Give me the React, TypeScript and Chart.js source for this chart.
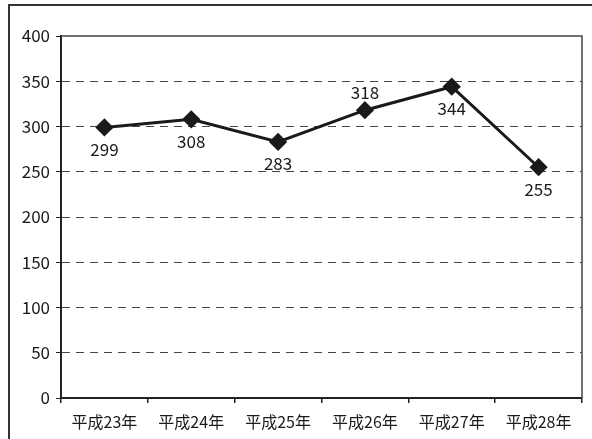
import React, { useEffect, useRef } from "react";
import { Chart, registerables } from "chart.js";

Chart.register(...registerables);

const categories = ["平成23年", "平成24年", "平成25年", "平成26年", "平成27年", "平成28年"];
const values = [299, 308, 283, 318, 344, 255];
const labelSides = ["below", "below", "below", "above", "below", "below"];
const yTicks = [0, 50, 100, 150, 200, 250, 300, 350, 400];

const FONT = "'Noto Sans CJK JP', 'Noto Sans', sans-serif";

const plotFrame = {
  id: "plotFrame",
  afterDatasetsDraw(chart: any) {
    const { ctx, chartArea } = chart;
    ctx.save();
    ctx.setLineDash([]);
    ctx.strokeStyle = "#444";
    ctx.lineWidth = 1.5;
    ctx.beginPath();
    ctx.moveTo(chartArea.left, chartArea.top);
    ctx.lineTo(chartArea.right, chartArea.top);
    ctx.lineTo(chartArea.right, chartArea.bottom);
    ctx.stroke();
    ctx.restore();
  },
};

const valueLabels = {
  id: "valueLabels",
  afterDatasetsDraw(chart: any) {
    const { ctx } = chart;
    const meta = chart.getDatasetMeta(0);
    ctx.save();
    ctx.font = `17px ${FONT}`;
    ctx.fillStyle = "#1a1a1a";
    ctx.textAlign = "center";
    ctx.textBaseline = "middle";
    meta.data.forEach((pt: any, i: number) => {
      const dy = labelSides[i] === "above" ? -18 : 22;
      ctx.fillText(String(values[i]), pt.x, pt.y + dy);
    });
    ctx.restore();
  },
};

export default function App() {
  const ref = useRef<HTMLCanvasElement>(null);
  useEffect(() => {
    if (!ref.current) return;
    const chart = new Chart(ref.current, {
      type: "line",
      data: {
        labels: categories,
        datasets: [
          {
            data: values,
            borderColor: "#1a1a1a",
            backgroundColor: "#1a1a1a",
            borderWidth: 3,
            pointStyle: "rectRot",
            pointRadius: 7,
            pointHoverRadius: 7,
            pointBackgroundColor: "#1a1a1a",
            pointBorderColor: "#1a1a1a",
            tension: 0,
          },
        ],
      },
      options: {
        responsive: false,
        animation: false,
        events: [],
        layout: { padding: { top: 36, right: 10, left: 0, bottom: 0 } },
        plugins: { legend: { display: false }, tooltip: { enabled: false } },
        scales: {
          x: {
            offset: true,
            grid: {
              offset: true,
              drawOnChartArea: false,
              drawTicks: true,
              tickLength: 5,
              color: "#222",
              lineWidth: 1.5,
            },
            border: { display: true, color: "#222", width: 2 },
            ticks: {
              font: { family: FONT, size: 16 },
              color: "#1a1a1a",
              padding: 9,
              maxRotation: 0,
            },
            afterFit: (s: any) => {
              s.height = 41;
            },
          },
          y: {
            min: 0,
            max: 400,
            afterBuildTicks: (s: any) => {
              s.ticks = yTicks.map((v) => ({ value: v }));
            },
            grid: {
              color: (c: any) => (c.tick && (c.tick.value === 0 || c.tick.value === 400) ? "rgba(0,0,0,0)" : "#444"),
              tickBorderDash: [],
              tickColor: "#222",
              drawTicks: true,
              tickLength: 5,
              lineWidth: 1,
            },
            border: { display: true, color: "#222", width: 2, dash: [8, 6] },
            ticks: {
              font: { family: FONT, size: 17 },
              color: "#1a1a1a",
              padding: 6,
            },
            afterFit: (s: any) => {
              s.width = 61;
            },
          },
        },
      },
      plugins: [plotFrame, valueLabels],
    } as any);
    return () => chart.destroy();
  }, []);

  return (
    <div style={{ position: "fixed", left: 0, top: 0, width: 592, height: 439, overflow: "hidden", background: "#fff" }}>
      <div
        style={{
          position: "absolute",
          left: 8,
          top: 4,
          width: 700,
          height: 600,
          borderLeft: "2px solid #333",
          borderTop: "2px solid #333",
        }}
      />
      <canvas ref={ref} width={592} height={439} style={{ position: "absolute", left: 0, top: 0 }} />
    </div>
  );
}
